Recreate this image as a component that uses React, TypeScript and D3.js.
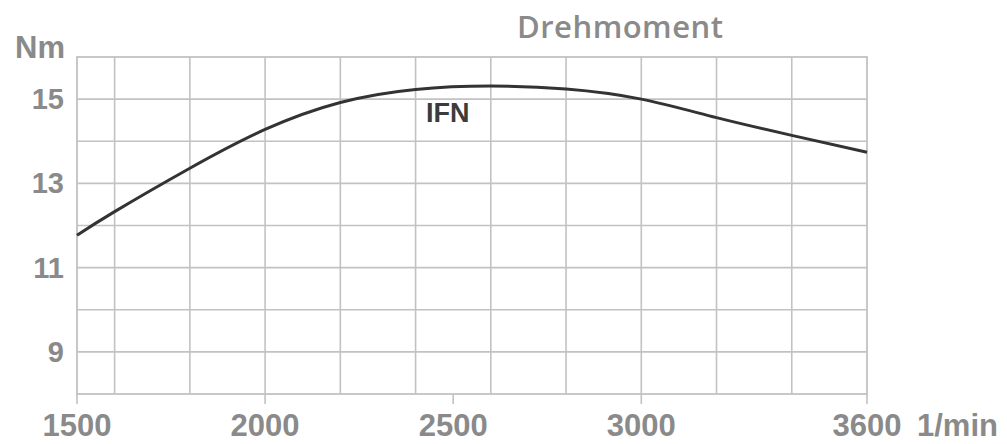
import React from "react";
import * as d3 from "d3";

const rpm = [1500, 1600, 1800, 2000, 2200, 2400, 2600, 2800, 3000, 3200, 3400, 3600];
const torque = [11.77, 12.33, 13.36, 14.28, 14.92, 15.23, 15.31, 15.24, 15.0, 14.56, 14.14, 13.74];
const xTicks = [1500, 2000, 2500, 3000, 3600];
const xGrid = [1600, 1800, 2000, 2200, 2400, 2600, 2800, 3000, 3200, 3400];
const yTicks = [9, 11, 13, 15];
const yGrid = [9, 10, 11, 12, 13, 14, 15];
const title = "Drehmoment";
const seriesLabel = "IFN";
const yUnit = "Nm";
const xUnit = "1/min";

const W = 1007;
const H = 444;
const left = 77;
const right = 867;
const top = 57;
const bottom = 394;

export default function App() {
  const x = d3.scaleLinear().domain([1500, 3600]).range([left, right]);
  const y = d3.scaleLinear().domain([8, 16]).range([bottom, top]);
  const line = d3
    .line<number>()
    .x((_, i) => x(rpm[i]))
    .y((d) => y(d))
    .curve(d3.curveNatural);
  const gridColor = "#c2c2c2";
  const textColor = "#8a8a8a";
  const font = "'Liberation Sans', Arial, sans-serif";
  return (
    <svg
      width={W}
      height={H}
      style={{ position: "absolute", left: 0, top: 0, background: "#fff" }}
    >
      <rect x={0} y={0} width={W} height={H} fill="#fff" />
      {xGrid.map((v) => (
        <line key={"xg" + v} x1={x(v)} x2={x(v)} y1={top} y2={bottom} stroke={gridColor} strokeWidth={1.6} />
      ))}
      {yGrid.map((v) => (
        <line key={"yg" + v} x1={left} x2={right} y1={y(v)} y2={y(v)} stroke={gridColor} strokeWidth={1.6} />
      ))}
      <rect x={left} y={top} width={right - left} height={bottom - top} fill="none" stroke={gridColor} strokeWidth={1.8} />
      {xTicks.map((v) => (
        <line key={"xt" + v} x1={x(v)} x2={x(v)} y1={bottom} y2={bottom + 10} stroke={gridColor} strokeWidth={1.6} />
      ))}
      <path d={line(torque) || ""} fill="none" stroke="#333" strokeWidth={3} />
      {xTicks.map((v) => (
        <text
          key={"xl" + v}
          x={x(v)}
          y={436}
          textAnchor="middle"
          fontFamily={font}
          fontWeight="bold"
          fontSize={31}
          fill={textColor}
        >
          {v}
        </text>
      ))}
      <text x={x(3600) + 50} y={436} fontFamily={font} fontWeight="bold" fontSize={31} fill={textColor}>
        {xUnit}
      </text>
      {yTicks.map((v) => (
        <text
          key={"yl" + v}
          x={64}
          y={y(v) + 10}
          textAnchor="end"
          fontFamily={font}
          fontWeight="bold"
          fontSize={29}
          fill={textColor}
        >
          {v}
        </text>
      ))}
      <text x={65} y={58} textAnchor="end" fontFamily={font} fontWeight="bold" fontSize={31} fill={textColor}>
        {yUnit}
      </text>
      <text
        x={517}
        y={38}
        fontFamily="'Open Sans', sans-serif"
        fontWeight={600}
        fontSize={31}
        fill={textColor}
        textLength={206}
        lengthAdjust="spacing"
      >
        {title}
      </text>
      <text x={426} y={122} fontFamily={font} fontWeight="bold" fontSize={27} fill="#3c3c3c">
        {seriesLabel}
      </text>
    </svg>
  );
}
